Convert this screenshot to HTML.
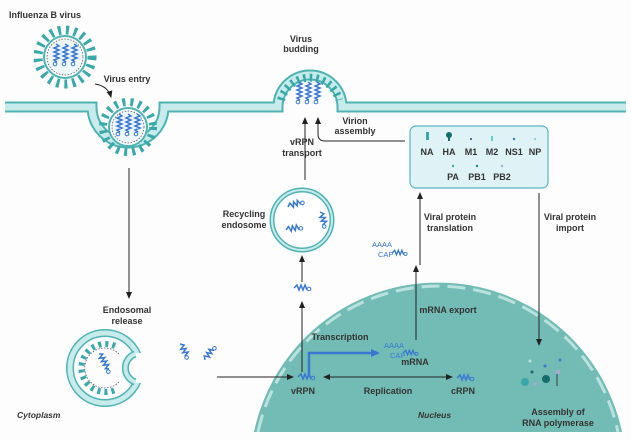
<!DOCTYPE html>
<html><head><meta charset="utf-8"><style>
html,body{margin:0;padding:0;background:#fff;width:631px;height:440px;overflow:hidden;}
svg{display:block;font-family:"Liberation Sans",sans-serif;}
.t{font-size:9px;font-weight:bold;fill:#333;text-anchor:middle;}
.i{font-size:8.5px;font-style:italic;font-weight:bold;fill:#333;}
.b{font-size:7.5px;fill:#3a78d0;}
</style></head><body>
<svg width="631" height="440" viewBox="0 0 631 440" xmlns="http://www.w3.org/2000/svg">
<defs>
<marker id="a" markerWidth="8" markerHeight="8" refX="6" refY="4" orient="auto" markerUnits="userSpaceOnUse"><path d="M0,1 L7,4 L0,7 z" fill="#222"/></marker>
<marker id="as" markerWidth="8" markerHeight="8" refX="1" refY="4" orient="auto" markerUnits="userSpaceOnUse"><path d="M7,1 L0,4 L7,7 z" fill="#222"/></marker>
<marker id="ab" markerWidth="10" markerHeight="10" refX="7" refY="5" orient="auto" markerUnits="userSpaceOnUse"><path d="M0,1 L9,5 L0,9 z" fill="#3a78d0"/></marker>
<g id="rna"><path d="M0,0 l3,-3 l2,5 l2,-5 l2,5 l2,-5 l2,5" fill="none" stroke="#3a78d0" stroke-width="1.5"/><circle cx="15" cy="1" r="1.8" fill="none" stroke="#3a78d0"/></g>
<g id="rv"><path d="M0,8 l-3,-2 l5,-2 l-5,-2 l5,-2 l-5,-2 l5,-2 l-5,-2 l5,-2 l-3,-2" fill="none" stroke="#3a78d0" stroke-width="1.5"/><circle cx="-2" cy="10" r="1.8" fill="none" stroke="#3a78d0"/></g>
</defs>
<rect width="631" height="440" fill="#fdfdfd"/>
<path d="M254,432 A188,188 0 0 1 622,432 Z" fill="#72bcb5"/>
<path d="M258,432 A184,184 0 0 1 618,432" fill="none" stroke="#b9e2de" stroke-width="3" stroke-dasharray="18 8"/>
<path d="M5,107 H92 A36,36 0 0 0 164,107 H278 A32,32 0 0 1 342,107 H626" fill="none" stroke="#4fb3b3" stroke-width="11"/>
<path d="M5,107 H92 A36,36 0 0 0 164,107 H278 A32,32 0 0 1 342,107 H626" fill="none" stroke="#c7ebeb" stroke-width="7"/>
<path d="M281,100 A30,30 0 0 1 339,100" fill="none" stroke="#3aa8a8" stroke-width="8" stroke-dasharray="2.5 4"/>
<use href="#rv" transform="translate(300,92)"/><use href="#rv" transform="translate(309,92)"/><use href="#rv" transform="translate(318,92)"/>
<g transform="translate(65,57)">
<circle r="27" fill="none" stroke="#3aa8a8" stroke-width="9" stroke-dasharray="3 5"/>
<circle r="21" fill="#fff" stroke="#4fb3b3" stroke-width="2"/>
<circle r="18" fill="#eef7f7" stroke="#556" stroke-width="0.8" stroke-dasharray="1.5 1.5"/>
<use href="#rv" transform="translate(-8,-3)"/><use href="#rv" transform="translate(1,-3)"/><use href="#rv" transform="translate(10,-3)"/>
</g>
<g transform="translate(128,127)">
<circle r="25" fill="none" stroke="#3aa8a8" stroke-width="8" stroke-dasharray="3 5"/>
<circle r="19" fill="#fff" stroke="#4fb3b3" stroke-width="2"/>
<circle r="16" fill="#eef7f7" stroke="#556" stroke-width="0.8" stroke-dasharray="1.5 1.5"/>
<use href="#rv" transform="translate(-8,-3)"/><use href="#rv" transform="translate(1,-3)"/><use href="#rv" transform="translate(10,-3)"/>
</g>
<path d="M95,84 Q108,86 111,97" fill="none" stroke="#222" stroke-width="0.9" marker-end="url(#a)"/>
<g transform="translate(105,368)">
<circle r="35" fill="none" stroke="#4fb3b3" stroke-width="8"/>
<circle r="35" fill="none" stroke="#c7ebeb" stroke-width="5"/>
<circle cx="35" cy="0" r="15" fill="#fdfdfd"/>
<path d="M30,-14 A15,15 0 0 0 30,14" fill="none" stroke="#4fb3b3" stroke-width="7"/>
<path d="M30,-14 A15,15 0 0 0 30,14" fill="none" stroke="#c7ebeb" stroke-width="4"/>
<path d="M10,-22 A24,24 0 1 0 10,22" fill="none" stroke="#3aa8a8" stroke-width="6" stroke-dasharray="3 4"/>
<path d="M14,-14 A20,20 0 1 0 14,14" fill="none" stroke="#556" stroke-width="0.8" stroke-dasharray="1.5 1.5"/>
<use href="#rv" transform="translate(0,-6) rotate(-30)"/>
</g>
<use href="#rna" transform="translate(180,344) rotate(60)"/>
<use href="#rna" transform="translate(205,360) rotate(-55)"/>
<circle cx="302" cy="220" r="30" fill="#fff" stroke="#4fb3b3" stroke-width="5"/>
<circle cx="302" cy="220" r="30" fill="none" stroke="#c7ebeb" stroke-width="2"/>
<use href="#rna" transform="translate(288,207) rotate(-20)"/>
<use href="#rna" transform="translate(286,230) rotate(-10)"/>
<use href="#rna" transform="translate(320,212) rotate(70)"/>
<use href="#rna" transform="translate(294,288)"/>
<rect x="410" y="126" width="138" height="62" rx="6" fill="#dff2f5" stroke="#5ab5c0" stroke-width="1.2"/>
<text x="427" y="155" class="t">NA</text><text x="449" y="155" class="t">HA</text><text x="471" y="155" class="t">M1</text>
<text x="492" y="155" class="t">M2</text><text x="514" y="155" class="t">NS1</text><text x="535" y="155" class="t">NP</text>
<text x="453" y="180" class="t">PA</text><text x="477" y="180" class="t">PB1</text><text x="502" y="180" class="t">PB2</text>
<rect x="426" y="132" width="3" height="8" fill="#3aa8a8"/><circle cx="449" cy="135" r="3" fill="#146b6b"/><rect x="448" y="135" width="2" height="6" fill="#146b6b"/>
<circle cx="471" cy="139" r="1" fill="#2a4a8a"/><rect x="491" y="136" width="2" height="5" fill="#6cc"/>
<circle cx="514" cy="139" r="1.2" fill="#3a78d0"/><circle cx="535" cy="139" r="1.2" fill="#9cd"/>
<circle cx="453" cy="166" r="1.2" fill="#3aa8a8"/><circle cx="477" cy="166" r="1.2" fill="#1e8a8a"/><circle cx="502" cy="166" r="1.2" fill="#b9a2d8"/>
<g stroke="#222" stroke-width="1" fill="none">
<line x1="129" y1="168" x2="129" y2="298" marker-end="url(#a)"/>
<line x1="217" y1="377" x2="293" y2="377" marker-end="url(#a)"/>
<line x1="302" y1="372" x2="302" y2="302" marker-end="url(#a)"/>
<line x1="302" y1="282" x2="302" y2="256" marker-end="url(#a)"/>
<line x1="305" y1="180" x2="305" y2="118" marker-end="url(#a)"/>
<path d="M405,141 H325 Q318,141 318,134 V118" marker-end="url(#a)"/>
<line x1="420" y1="265" x2="420" y2="193" marker-end="url(#a)"/>
<line x1="416" y1="340" x2="416" y2="266" marker-end="url(#a)"/>
<line x1="539" y1="193" x2="539" y2="345" marker-end="url(#a)"/>
<line x1="324" y1="377" x2="452" y2="377" marker-end="url(#a)" marker-start="url(#as)"/>
<line x1="557" y1="374" x2="557" y2="386" stroke-width="0.8"/>
</g>
<path d="M309,377 V353 H378" fill="none" stroke="#3a78d0" stroke-width="2.5" marker-end="url(#ab)"/>
<use href="#rna" transform="translate(298,377)"/>
<use href="#rna" transform="translate(457,378)"/>
<text x="384" y="348" class="b">AAAA</text><text x="390" y="358" class="b">CAP</text>
<use href="#rna" transform="translate(403,353) scale(0.9)"/>
<text x="415" y="365" class="t" font-weight="normal">mRNA</text>
<text x="372" y="247" class="b">AAAA</text><text x="378" y="257" class="b">CAP</text>
<use href="#rna" transform="translate(392,253) scale(0.9)"/>
<circle cx="530" cy="361" r="1.5" fill="#b9e2de"/><circle cx="545" cy="366" r="1.5" fill="#3a78d0"/><circle cx="532" cy="372" r="1.5" fill="#1e6a6a"/>
<circle cx="560" cy="360" r="1.5" fill="#3a78d0"/><circle cx="558" cy="372" r="2" fill="#b9a2d8"/><circle cx="535" cy="384" r="1.3" fill="#b9a2d8"/>
<circle cx="525" cy="382" r="4" fill="#3aa8a8"/><circle cx="546" cy="379" r="4" fill="#146b6b"/>
<text x="45" y="18" class="t">Influenza B  virus</text>
<text x="127" y="82" class="t">Virus entry</text>
<text x="301" y="42" class="t">Virus</text><text x="301" y="52" class="t">budding</text>
<text x="355" y="124" class="t">Virion</text><text x="355" y="134" class="t">assembly</text>
<text x="302" y="145" class="t">vRPN</text><text x="302" y="156" class="t">transport</text>
<text x="244" y="217" class="t">Recycling</text><text x="244" y="228" class="t">endosome</text>
<text x="450" y="220" class="t">Viral protein</text><text x="450" y="231" class="t">translation</text>
<text x="570" y="220" class="t">Viral protein</text><text x="570" y="231" class="t">import</text>
<text x="127" y="313" class="t">Endosomal</text><text x="127" y="324" class="t">release</text>
<text x="448" y="313" class="t">mRNA export</text>
<text x="340" y="340" class="t">Transcription</text>
<text x="303" y="394" class="t">vRPN</text>
<text x="388" y="394" class="t">Replication</text>
<text x="463" y="394" class="t">cRPN</text>
<text x="558" y="415" class="t">Assembly of</text><text x="558" y="426" class="t">RNA polymerase</text>
<text x="17" y="418" class="i">Cytoplasm</text>
<text x="418" y="418" class="i">Nucleus</text>
</svg>
</body></html>
